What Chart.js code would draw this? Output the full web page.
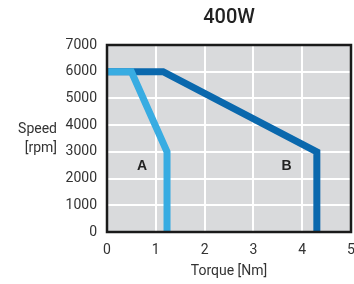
<!DOCTYPE html>
<html>
<head>
<meta charset="utf-8">
<script src="https://cdn.jsdelivr.net/npm/chart.js@4/dist/chart.umd.min.js"></script>
<style>
  html, body { margin: 0; padding: 0; background: #fff; }
  #wrap { width: 354px; height: 284px; }
</style>
</head>
<body>
<div id="wrap"><canvas id="chart" width="354" height="284"></canvas></div>
<script>
// curva A (azul claro) y curva B (azul oscuro): torque [Nm] / speed [rpm]
const curvaA_torque = [0, 0.5, 1.23, 1.23];
const curvaA_speed = [6000, 6000, 3000, 0];
const curvaB_torque = [0, 1.15, 4.3, 4.3];
const curvaB_speed = [6000, 6000, 3000, 0];

const titulo = '400W';
const etiquetasCurvas = ['A', 'B'];
const posEtiquetas = [[0.72, 2450], [3.68, 2450]];

const fuente = 'Roboto, "Liberation Sans", sans-serif';

function puntos(xs, ys) {
  return xs.map((x, i) => ({ x: x, y: ys[i] }));
}

// fondo gris + marco negro + textos extra
const decoracion = {
  id: 'decoracion',
  beforeDraw(chart) {
    const { ctx, chartArea: a } = chart;
    ctx.save();
    ctx.fillStyle = '#d9dadc';
    ctx.fillRect(a.left, a.top, a.right - a.left, a.bottom - a.top);
    ctx.restore();
  },
  afterDraw(chart) {
    const { ctx, chartArea: a, scales } = chart;
    ctx.save();
    ctx.strokeStyle = '#1a1a1a';
    ctx.lineWidth = 2.5;
    ctx.strokeRect(a.left, a.top, a.right - a.left, a.bottom - a.top);

    // titulo
    ctx.fillStyle = '#222';
    ctx.font = '500 20px ' + fuente;
    ctx.textAlign = 'center';
    ctx.textBaseline = 'middle';
    ctx.fillText(titulo, (a.left + a.right) / 2, 18);

    // etiqueta eje y (horizontal, dos lineas)
    ctx.fillStyle = '#333';
    ctx.font = '14px ' + fuente;
    ctx.textAlign = 'right';
    ctx.fillText('Speed', 57, 129);
    ctx.fillText('[rpm]', 57, 148);

    // A y B
    ctx.fillStyle = '#222';
    ctx.font = 'bold 14px "Liberation Sans", Arial, sans-serif';
    ctx.textAlign = 'center';
    etiquetasCurvas.forEach((t, i) => {
      ctx.fillText(t, scales.x.getPixelForValue(posEtiquetas[i][0]), scales.y.getPixelForValue(posEtiquetas[i][1]));
    });
    ctx.restore();
  }
};

new Chart(document.getElementById('chart').getContext('2d'), {
  type: 'line',
  data: {
    datasets: [
      {
        label: 'A',
        data: puntos(curvaA_torque, curvaA_speed),
        borderColor: '#38ace2',
        borderWidth: 7,
        borderJoinStyle: 'miter',
        pointRadius: 0,
        tension: 0,
        fill: false
      },
      {
        label: 'B',
        data: puntos(curvaB_torque, curvaB_speed),
        borderColor: '#0a68ad',
        borderWidth: 7,
        borderJoinStyle: 'miter',
        pointRadius: 0,
        tension: 0,
        fill: false
      }
    ]
  },
  options: {
    responsive: false,
    animation: false,
    layout: { padding: { top: 45, right: 3, left: 0, bottom: 0 } },
    plugins: {
      legend: { display: false },
      tooltip: { enabled: false }
    },
    scales: {
      x: {
        type: 'linear',
        min: 0,
        max: 5,
        ticks: { stepSize: 1, color: '#333', font: { family: fuente, size: 14 }, padding: 10 },
        grid: { color: '#ffffff', lineWidth: 2, drawTicks: false },
        border: { display: false },
        title: { display: true, text: 'Torque [Nm]', color: '#333', font: { family: fuente, size: 14 }, padding: { top: 4 } },
        afterFit(s) { s.height = 52; s.paddingLeft = 0; s.paddingRight = 0; }
      },
      y: {
        min: 0,
        max: 7000,
        ticks: { stepSize: 1000, color: '#333', font: { family: fuente, size: 14 }, padding: 10,
          callback: v => String(v) },
        grid: { color: '#ffffff', lineWidth: 2, drawTicks: false },
        border: { display: false },
        afterFit(s) { s.width = 107; s.paddingTop = 0; s.paddingBottom = 0; }
      }
    }
  },
  plugins: [decoracion]
});
</script>
</body>
</html>
